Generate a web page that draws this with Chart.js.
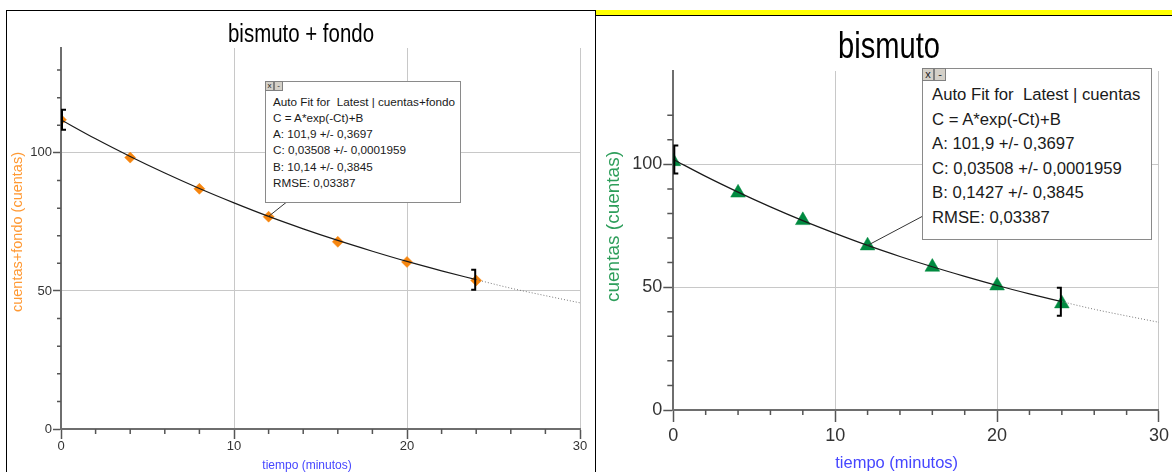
<!DOCTYPE html>
<html>
<head>
<meta charset="utf-8">
<script src="https://cdn.jsdelivr.net/npm/chart.js@4.4.1/dist/chart.umd.min.js"></script>
<style>
  body { margin: 0; width: 1172px; height: 472px; overflow: hidden; position: relative; background: #fff;
         font-family: 'Liberation Sans', Arial, sans-serif; }
  .abs { position: absolute; }
  canvas { position: absolute; }
  .fitbox { position: absolute; background: #fff; border: 1px solid #8a8a8a; box-sizing: border-box; color: #1a1a1a; }
  .fitbox .line { white-space: pre; }
  .btns { position: absolute; left: -1px; top: -1px; display: flex; }
  .btns span { display: block; box-sizing: border-box; background: #d4d0c8; border: 1px solid #808080; color: #222; text-align: center; }
</style>
</head>
<body>
<!-- frames -->
<div class="abs" style="left:6px;top:10px;width:589px;height:470px;border-left:1px solid #000;border-top:1px solid #000;"></div>
<div class="abs" style="left:595px;top:10px;width:1px;height:462px;background:#000;"></div>
<div class="abs" style="left:596px;top:10px;width:576px;height:5px;background:#ffff00;"></div>
<div class="abs" style="left:596px;top:15px;width:576px;height:1px;background:#000;"></div>

<canvas id="chartL" width="588" height="461" style="left:7px;top:11px;"></canvas>
<canvas id="chartR" width="576" height="456" style="left:596px;top:16px;"></canvas>

<div class="fitbox" id="boxL" style="left:265px;top:81px;width:196px;height:122px;font-size:11.7px;line-height:16.3px;padding:11.5px 0 0 7px;"><div class="btns"><span style="width:9px;height:10px;font-size:8px;line-height:8px;">x</span><span style="width:9px;height:10px;font-size:8px;line-height:8px;">-</span></div></div>
<div class="fitbox" id="boxR" style="left:922px;top:68px;width:230px;height:172px;font-size:16.7px;line-height:24.5px;padding:14.2px 0 0 9px;"><div class="btns"><span style="width:12px;height:13px;font-size:11px;line-height:11px;">x</span><span style="width:12px;height:13px;font-size:11px;line-height:11px;">-</span></div></div>

<script>
// measured data (minutes, counts)
const TIME = [0, 4, 8, 12, 16, 20, 24];
const CUENTAS_FONDO = [112.0, 98.3, 87.0, 76.9, 67.8, 60.5, 53.8];
const CUENTAS = [101.2, 88.4, 77.2, 66.9, 58.2, 50.6, 43.3];

// fitted curve (solid part, then dotted extension)
const FIT_TIME = [0, 2, 4, 6, 8, 10, 12, 14, 16, 18, 20, 22, 24];
const FIT_FONDO = [112.0, 105.1, 98.7, 92.7, 87.1, 81.9, 77.0, 72.5, 68.3, 64.4, 60.7, 57.3, 54.1];
const FIT_CUENTAS = [102.0, 95.1, 88.7, 82.7, 77.1, 71.9, 67.0, 62.5, 58.3, 54.4, 50.7, 47.3, 44.1];
const EXT_TIME = [24, 26, 28, 30];
const EXT_FONDO = [54.1, 51.0, 48.3, 45.7];
const EXT_CUENTAS = [44.1, 41.0, 38.3, 35.7];

const X_LABELS = [0, 10, 20, 30];
const Y_LABELS = [0, 50, 100];

const TEXT_FONDO = [
  'Auto Fit for  Latest | cuentas+fondo',
  'C = A*exp(-Ct)+B',
  'A: 101,9 +/- 0,3697',
  'C: 0,03508 +/- 0,0001959',
  'B: 10,14 +/- 0,3845',
  'RMSE: 0,03387'
];
const TEXT_CUENTAS = [
  'Auto Fit for  Latest | cuentas',
  'C = A*exp(-Ct)+B',
  'A: 101,9 +/- 0,3697',
  'C: 0,03508 +/- 0,0001959',
  'B: 0,1427 +/- 0,3845',
  'RMSE: 0,03387'
];

const SANS = "'Liberation Sans', Arial, sans-serif";

function fillBox(id, lines) {
  const box = document.getElementById(id);
  lines.forEach(l => {
    const d = document.createElement('div');
    d.className = 'line';
    d.textContent = l;
    box.appendChild(d);
  });
}
fillBox('boxL', TEXT_FONDO);
fillBox('boxR', TEXT_CUENTAS);

const pts = (xs, ys) => xs.map((x, i) => ({ x, y: ys[i] }));

// minor ticks, fit brackets, leader line, chart title and axis titles
const decor = {
  id: 'decor',
  afterDraw(chart, args, o) {
    const { ctx, chartArea: a, scales: { x, y } } = chart;
    ctx.save();

    ctx.strokeStyle = '#555';
    ctx.lineWidth = 1.5;
    ctx.beginPath();
    x.ticks.forEach(t => {
      if (X_LABELS.includes(t.value)) return;
      const px = x.getPixelForValue(t.value);
      ctx.moveTo(px, a.bottom);
      ctx.lineTo(px, a.bottom + o.minorX);
    });
    y.ticks.forEach(t => {
      if (Y_LABELS.includes(t.value)) return;
      const py = y.getPixelForValue(t.value);
      ctx.moveTo(a.left, py);
      ctx.lineTo(a.left - o.minorY, py);
    });
    ctx.stroke();

    const fit = chart.data.datasets[1].data;
    ctx.strokeStyle = '#000';
    ctx.lineWidth = 2;
    [[fit[0], 1], [fit[fit.length - 1], -1]].forEach(([p, dir]) => {
      const px = x.getPixelForValue(p.x) + dir;
      const py = y.getPixelForValue(p.y);
      const h = o.bracket / 2;
      ctx.beginPath();
      ctx.moveTo(px + dir * 4, py - h);
      ctx.lineTo(px, py - h);
      ctx.lineTo(px, py + h);
      ctx.lineTo(px + dir * 4, py + h);
      ctx.stroke();
    });

    const target = fit[FIT_TIME.indexOf(12)];
    ctx.strokeStyle = '#333';
    ctx.lineWidth = 1;
    ctx.beginPath();
    ctx.moveTo(o.anchor[0], o.anchor[1]);
    ctx.lineTo(x.getPixelForValue(target.x), y.getPixelForValue(target.y));
    ctx.stroke();

    ctx.textAlign = 'center';
    ctx.textBaseline = 'alphabetic';

    // title: the original font is a condensed sans, so squeeze it
    ctx.save();
    ctx.font = o.title.size + 'px ' + SANS;
    ctx.fillStyle = '#000';
    ctx.translate(chart.width / 2 + o.title.dx, o.title.baseline);
    ctx.scale(o.title.squeeze, 1);
    ctx.fillText(o.title.text, 0, 0);
    ctx.restore();

    ctx.font = o.xTitle.font;
    ctx.fillStyle = o.xTitle.color;
    ctx.fillText(o.xTitle.text, (a.left + a.right) / 2 + o.xTitle.dx, a.bottom + o.xTitle.dy);

    ctx.translate(o.yTitle.x, (a.top + a.bottom) / 2 + o.yTitle.dy);
    ctx.rotate(-Math.PI / 2);
    ctx.font = o.yTitle.font;
    ctx.fillStyle = o.yTitle.color;
    ctx.textBaseline = 'middle';
    ctx.fillText(o.yTitle.text, 0, 0);

    ctx.restore();
  }
};

function makeChart(id, c) {
  return new Chart(document.getElementById(id), {
    type: 'scatter',
    data: {
      datasets: [
        {
          data: pts(TIME, c.points),
          pointStyle: c.pointStyle,
          pointRadius: c.pointRadius,
          backgroundColor: c.pointColor,
          borderColor: c.pointColor,
          borderWidth: 0.5,
          clip: 0,
          order: 2
        },
        {
          data: pts(FIT_TIME, c.fit),
          showLine: true,
          pointRadius: 0,
          borderColor: '#1a1a1a',
          borderWidth: 1.2,
          cubicInterpolationMode: 'monotone',
          clip: 0,
          order: 1
        },
        {
          data: pts(EXT_TIME, c.ext),
          showLine: true,
          pointRadius: 0,
          borderColor: '#777',
          borderWidth: 1,
          borderDash: [1, 2],
          cubicInterpolationMode: 'monotone',
          clip: 0,
          order: 1
        }
      ]
    },
    options: {
      responsive: false,
      animation: false,
      events: [],
      layout: { padding: { left: c.pad, right: c.pad, top: c.top, bottom: 0 } },
      plugins: {
        legend: { display: false },
        tooltip: { enabled: false },
        title: { display: false },
        decor: c.decor
      },
      scales: {
        x: {
          type: 'linear',
          min: 0,
          max: 30,
          ticks: {
            stepSize: 2,
            autoSkip: false,
            maxRotation: 0,
            color: '#333',
            padding: c.xTickPad,
            font: { family: SANS, size: c.tickSize, lineHeight: 1.2 },
            callback: v => X_LABELS.includes(v) ? String(v) : ''
          },
          grid: {
            color: ctx => X_LABELS.includes(ctx.tick.value) ? '#c8c8c8' : 'transparent',
            tickColor: ctx => X_LABELS.includes(ctx.tick.value) ? '#555' : 'transparent',
            tickLength: c.xTickLen,
            tickWidth: 1.5
          },
          border: { color: '#6e6e6e', width: 2 },
          afterFit: s => { s.height = c.xHeight; }
        },
        y: {
          type: 'linear',
          min: 0,
          max: 138,
          afterBuildTicks: s => { s.ticks = s.ticks.filter(t => t.value % 10 === 0); },
          ticks: {
            stepSize: 10,
            autoSkip: false,
            color: '#333',
            padding: c.yTickPad,
            font: { family: SANS, size: c.tickSize },
            callback: v => Y_LABELS.includes(v) ? String(v) : ''
          },
          grid: {
            color: ctx => Y_LABELS.includes(ctx.tick.value) ? '#c8c8c8' : 'transparent',
            tickColor: ctx => Y_LABELS.includes(ctx.tick.value) ? '#555' : 'transparent',
            tickLength: c.yTickLen,
            tickWidth: 1.5
          },
          border: { color: '#6e6e6e', width: 2 },
          afterFit: s => { s.width = c.yWidth; }
        }
      }
    },
    plugins: [decor]
  });
}

makeChart('chartL', {
  points: CUENTAS_FONDO, fit: FIT_FONDO, ext: EXT_FONDO,
  pointStyle: 'rectRot', pointRadius: 5.5, pointColor: '#f7860f',
  pad: 15, top: 37, yWidth: 39, xHeight: 43,
  tickSize: 13, xTickLen: 10, xTickPad: 0, yTickLen: 8, yTickPad: 1,
  decor: {
    title: { text: 'bismuto + fondo', size: 26, squeeze: 0.786, baseline: 30.7, dx: 0 },
    minorX: 5, minorY: 4, bracket: 20, anchor: [279.7, 191],
    xTitle: { text: 'tiempo (minutos)', font: '12px ' + SANS, color: '#4646ff', dx: -13.5, dy: 40 },
    yTitle: { text: 'cuentas+fondo (cuentas)', font: '14.5px ' + SANS, color: '#ff9933', x: 11.3, dy: -6.5 }
  }
});

makeChart('chartR', {
  points: CUENTAS, fit: FIT_CUENTAS, ext: EXT_CUENTAS,
  pointStyle: 'triangle', pointRadius: 8.5, pointColor: '#008a40',
  pad: 10.3, top: 55, yWidth: 67, xHeight: 62,
  tickSize: 18, xTickLen: 12, xTickPad: 3, yTickLen: 10, yTickPad: 1,
  decor: {
    title: { text: 'bismuto', size: 37, squeeze: 0.787, baseline: 42.3, dx: 5 },
    minorX: 5, minorY: 6, bracket: 28, anchor: [327, 200],
    xTitle: { text: 'tiempo (minutos)', font: '16.5px ' + SANS, color: '#4646ff', dx: -19.5, dy: 57.8 },
    yTitle: { text: 'cuentas (cuentas)', font: '19px ' + SANS, color: '#2e9e5b', x: 18, dy: -14 }
  }
});
</script>
</body>
</html>
